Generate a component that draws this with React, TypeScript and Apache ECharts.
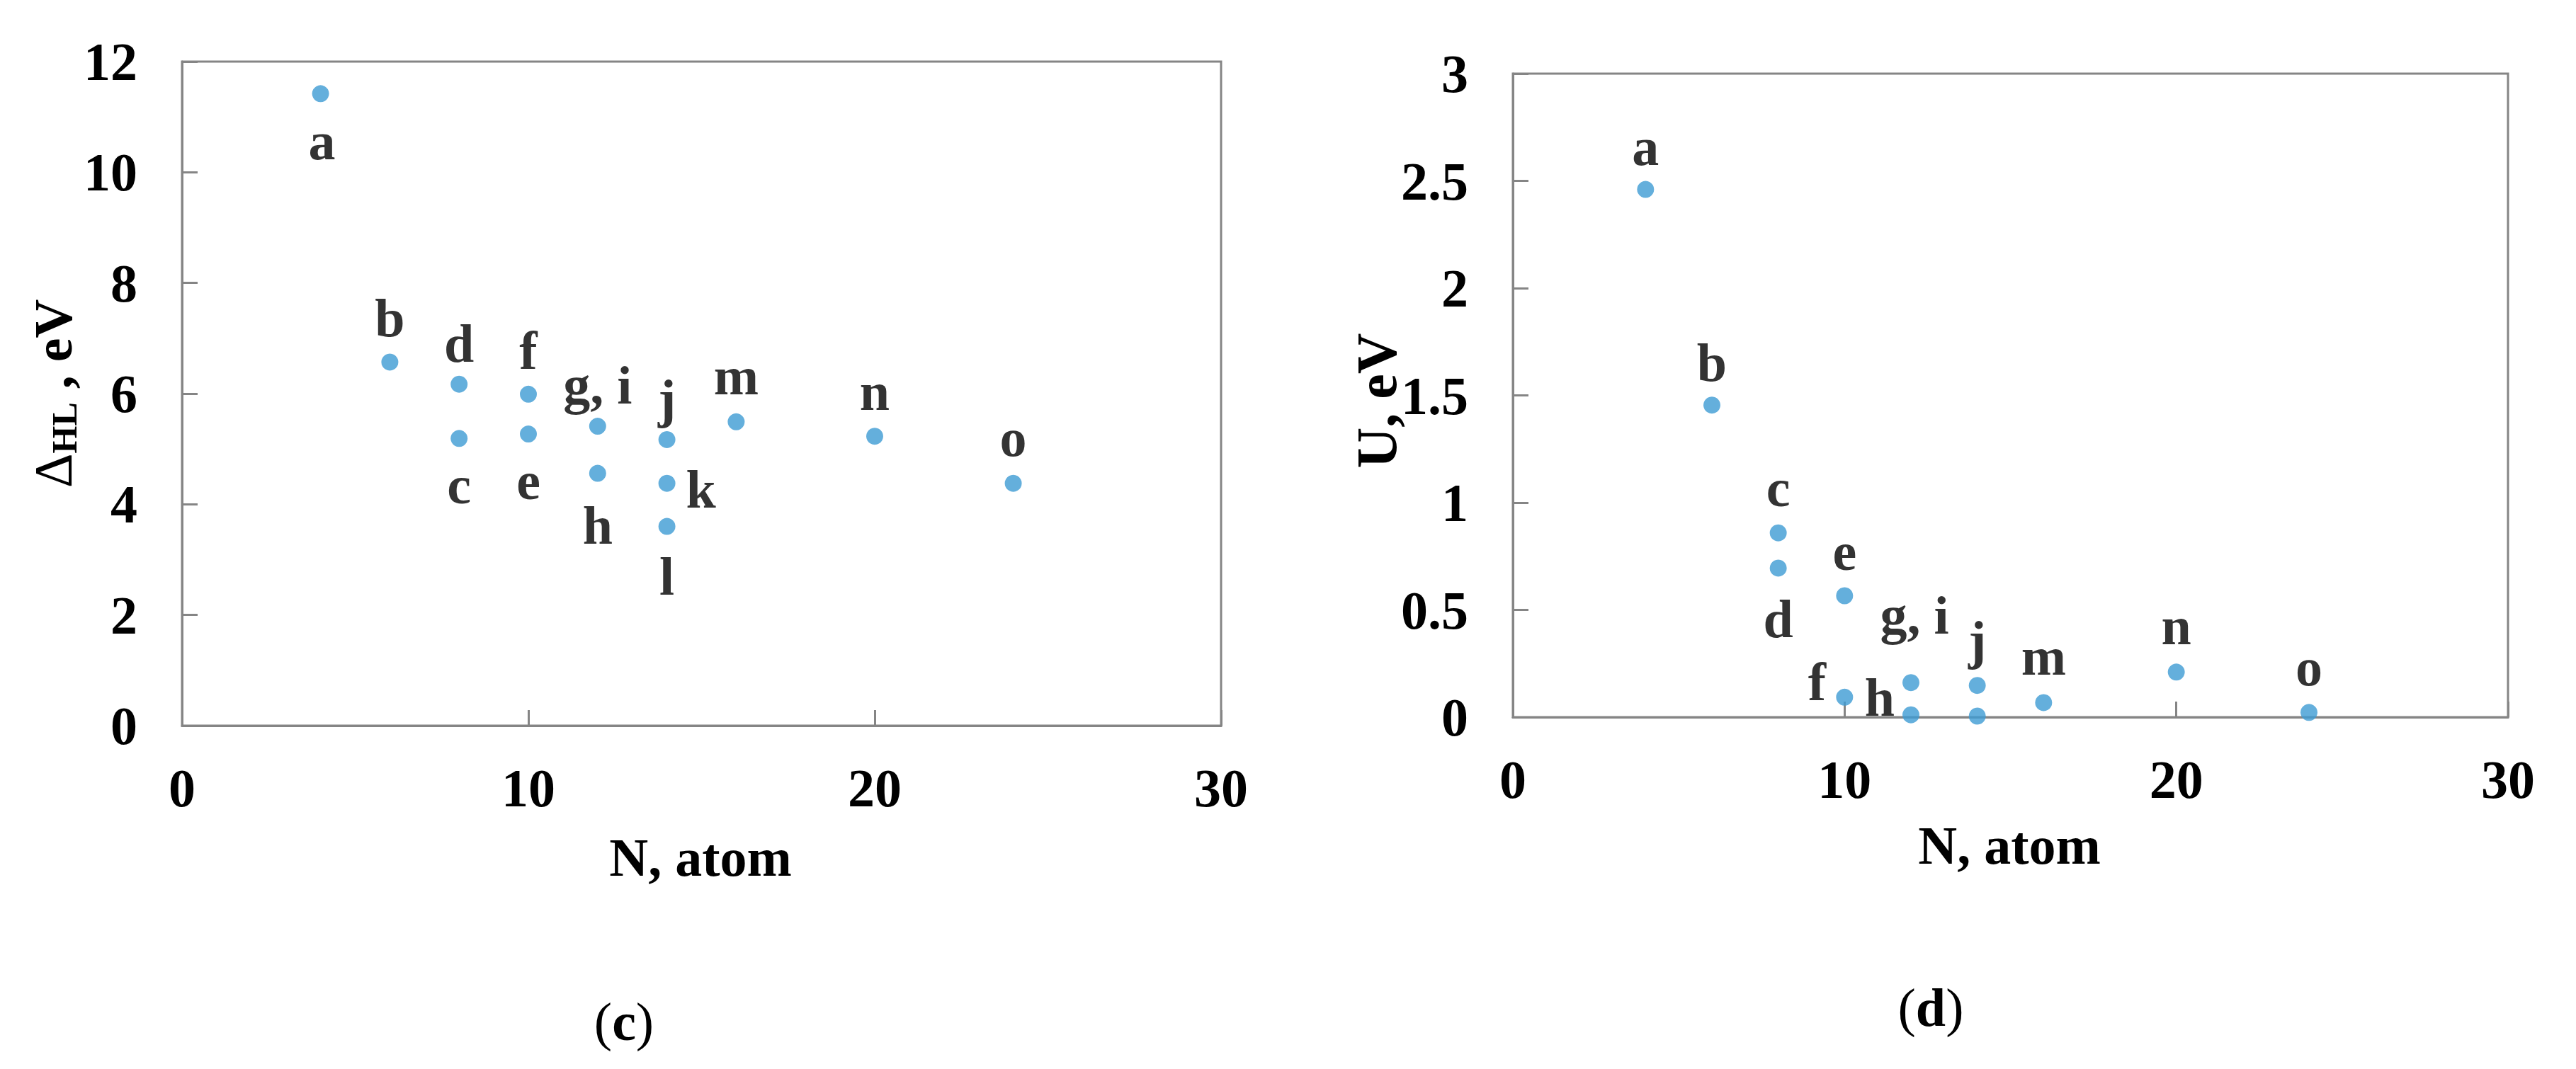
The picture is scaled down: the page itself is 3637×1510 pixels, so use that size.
import React, { useEffect, useRef } from "react";
import * as echarts from "echarts";

// ---- data: panel (c) ----
const labelsC = ["a", "b", "c", "d", "e", "f", "g, i", "h", "j", "k", "l", "m", "n", "o"];
const atomsC = [4, 6, 8, 8, 10, 10, 12, 12, 14, 14, 14, 16, 20, 24];
const gapC = [11.42, 6.57, 5.19, 6.17, 5.27, 5.99, 5.41, 4.56, 5.17, 4.38, 3.6, 5.49, 5.23, 4.38];

// ---- data: panel (d) ----
const labelsD = ["a", "b", "c", "d", "e", "f", "g, i", "h", "j", "", "m", "n", "o"];
const atomsD = [4, 6, 8, 8, 10, 10, 12, 12, 14, 14, 16, 20, 24];
const energyD = [2.46, 1.455, 0.859, 0.695, 0.566, 0.093, 0.161, 0.011, 0.148, 0.005, 0.068, 0.21, 0.022];

const xTicks = [0, 10, 20, 30];
const yTicksC = [0, 2, 4, 6, 8, 10, 12];
const yTicksD = [0, 0.5, 1, 1.5, 2, 2.5, 3];

// label placement (layout, px offsets from the point centre)
const offC: Record<string, [number, number]> = {
  a: [2, 67], b: [0, -62], c: [0, 66], d: [0, -58], e: [0, 66], f: [0, -62],
  "g, i": [0, -58], h: [0, 73], j: [0, -58], k: [48, 8], l: [0, 70],
  m: [0, -65], n: [0, -63], o: [0, -65],
};
const offD: Record<string, [number, number]> = {
  a: [0, -61], b: [0, -60], c: [0, -64], d: [0, 72], e: [0, -63], f: [-39, -22],
  "g, i": [5, -95], h: [-44, -25], j: [0, -64], "": [0, 0], m: [0, -65], n: [0, -65], o: [0, -64],
};

const FONT = '"Liberation Serif", "Times New Roman", serif';
const AXIS = "#858585";
const DOT = "#3d9bd3";
const FS = 76;

function axisCommon(min: number, max: number, interval: number, isY: boolean) {
  return {
    type: "value",
    min,
    max,
    interval,
    axisLine: { show: true, lineStyle: { color: AXIS, width: 3 } },
    axisTick: { show: true, inside: true, length: 22, lineStyle: { color: AXIS, width: 3 } },
    splitLine: { show: false },
    axisLabel: {
      color: "#000",
      fontFamily: FONT,
      fontWeight: "bold",
      fontSize: FS,
      margin: isY ? 63 : 50,
    },
  };
}

export default function App() {
  const ref = useRef<HTMLDivElement>(null);
  useEffect(() => {
    if (!ref.current) return;
    const chart = echarts.init(ref.current, undefined, { renderer: "svg" });
    const labelBase = {
      show: true,
      position: "inside",
      color: "#000",
      fontFamily: FONT,
      fontWeight: "bold",
      fontSize: FS,
    };
    const option = {
      animation: false,
      backgroundColor: "#fff",
      grid: [
        { left: 257, top: 87, width: 1467, height: 938, show: true, borderColor: AXIS, borderWidth: 3, backgroundColor: "transparent" },
        { left: 2136, top: 104, width: 1405, height: 909, show: true, borderColor: AXIS, borderWidth: 3, backgroundColor: "transparent" },
      ],
      xAxis: [
        { ...axisCommon(xTicks[0], xTicks[xTicks.length - 1], 10, false), gridIndex: 0 },
        { ...axisCommon(xTicks[0], xTicks[xTicks.length - 1], 10, false), gridIndex: 1 },
      ],
      yAxis: [
        { ...axisCommon(yTicksC[0], yTicksC[yTicksC.length - 1], 2, true), gridIndex: 0 },
        { ...axisCommon(yTicksD[0], yTicksD[yTicksD.length - 1], 0.5, true), gridIndex: 1 },
      ],
      series: [
        {
          type: "scatter",
          xAxisIndex: 0,
          yAxisIndex: 0,
          symbol: "circle",
          symbolSize: 24,
          itemStyle: { color: DOT },
          label: labelBase,
          data: atomsC.map((x, i) => ({
            value: [x, gapC[i]],
            label: { formatter: labelsC[i], offset: offC[labelsC[i]] },
          })),
        },
        {
          type: "scatter",
          xAxisIndex: 1,
          yAxisIndex: 1,
          symbol: "circle",
          symbolSize: 24,
          itemStyle: { color: DOT },
          label: labelBase,
          data: atomsD.map((x, i) => ({
            value: [x, energyD[i]],
            label: { formatter: labelsD[i], offset: offD[labelsD[i]], show: labelsD[i] !== "" },
          })),
        },
      ],
      graphic: [
        {
          type: "text",
          x: 989,
          y: 1211,
          style: { text: "N, atom", fill: "#000", font: `bold ${FS}px ${FONT}`, align: "center", verticalAlign: "middle" },
        },
        {
          type: "text",
          x: 2837,
          y: 1194,
          style: { text: "N, atom", fill: "#000", font: `bold ${FS}px ${FONT}`, align: "center", verticalAlign: "middle" },
        },
        {
          type: "text",
          x: 75,
          y: 556,
          rotation: Math.PI / 2,
          style: {
            text: "{d|Δ}{s|HL}{n| , eV}",
            fill: "#000",
            align: "center",
            verticalAlign: "middle",
            rich: {
              d: { fontFamily: FONT, fontSize: FS, fontWeight: "normal", lineHeight: FS, fill: "#000" },
              s: { fontFamily: FONT, fontSize: 50, fontWeight: "bold", lineHeight: 50, padding: [32, 0, 0, 0], fill: "#000" },
              n: { fontFamily: FONT, fontSize: FS, fontWeight: "bold", lineHeight: FS, fill: "#000" },
            },
          },
        },
        {
          type: "text",
          x: 1944,
          y: 566,
          rotation: Math.PI / 2,
          style: { text: "U, eV", fill: "#000", font: `bold 80px ${FONT}`, align: "center", verticalAlign: "middle" },
        },
        {
          type: "text",
          x: 881,
          y: 1443,
          style: {
            text: "{p|(}{b|c}{p|)}",
            align: "center",
            verticalAlign: "middle",
            rich: {
              p: { fontFamily: FONT, fontSize: FS, fontWeight: "normal", fill: "#000" },
              b: { fontFamily: FONT, fontSize: FS, fontWeight: "bold", fill: "#000" },
            },
          },
        },
        {
          type: "text",
          x: 2726,
          y: 1423,
          style: {
            text: "{p|(}{b|d}{p|)}",
            align: "center",
            verticalAlign: "middle",
            rich: {
              p: { fontFamily: FONT, fontSize: FS, fontWeight: "normal", fill: "#000" },
              b: { fontFamily: FONT, fontSize: FS, fontWeight: "bold", fill: "#000" },
            },
          },
        },
      ],
    };
    chart.setOption(option as any);
    return () => chart.dispose();
  }, []);
  return (
    <div
      ref={ref}
      style={{ position: "fixed", left: 0, top: 0, width: 3637, height: 1510, background: "#fff" }}
    />
  );
}
